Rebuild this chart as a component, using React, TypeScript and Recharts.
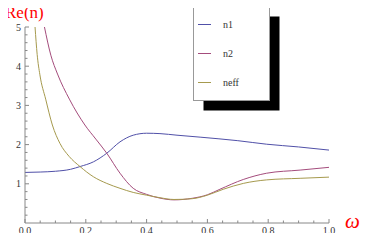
import React from 'react'
import { LineChart, Line, XAxis, YAxis, Legend } from 'recharts'

// omega values and Re(n) readings for each series
const n1W = [0, 0.05, 0.1, 0.15, 0.181, 0.225, 0.269, 0.3125, 0.356, 0.4, 0.444, 0.5, 0.576, 0.7, 0.795, 0.9, 1.0]
const n1V = [1.29, 1.3, 1.32, 1.37, 1.44, 1.56, 1.78, 2.07, 2.24, 2.29, 2.28, 2.24, 2.19, 2.1, 2.01, 1.94, 1.86]

const n2W = [0.064, 0.085, 0.107, 0.146, 0.197, 0.233, 0.269, 0.3125, 0.356, 0.4, 0.444, 0.49, 0.55, 0.6, 0.641, 0.718, 0.795, 0.905, 1.0]
const n2V = [5.0, 4.28, 3.8, 3.16, 2.5, 2.14, 1.78, 1.27, 0.885, 0.73, 0.635, 0.59, 0.63, 0.72, 0.86, 1.11, 1.27, 1.35, 1.42]

const neffW = [0.033, 0.04, 0.049, 0.068, 0.09, 0.115, 0.145, 0.181, 0.225, 0.269, 0.3125, 0.356, 0.4, 0.444, 0.49, 0.55, 0.6, 0.652, 0.718, 0.795, 0.905, 1.0]
const neffV = [5.0, 4.3, 3.78, 3.16, 2.5, 2.03, 1.7, 1.44, 1.18, 1.01, 0.885, 0.78, 0.71, 0.645, 0.6, 0.62, 0.71, 0.86, 1.01, 1.1, 1.14, 1.17]

const xMajor = [0, 0.2, 0.4, 0.6, 0.8, 1.0]
const xTicks = [0, 0.05, 0.1, 0.15, 0.2, 0.25, 0.3, 0.35, 0.4, 0.45, 0.5, 0.55, 0.6, 0.65, 0.7, 0.75, 0.8, 0.85, 0.9, 0.95, 1.0]
const yMajor = [1, 2, 3, 4, 5]
const yTicks = [0.2, 0.4, 0.6, 0.8, 1, 1.2, 1.4, 1.6, 1.8, 2, 2.2, 2.4, 2.6, 2.8, 3, 3.2, 3.4, 3.6, 3.8, 4, 4.2, 4.4, 4.6, 4.8, 5]

const series = [
  { name: 'n1', w: n1W, v: n1V, color: '#5050a8' },
  { name: 'n2', w: n2W, v: n2V, color: '#a44c7c' },
  { name: 'neff', w: neffW, v: neffV, color: '#a69a4e' },
]

const AXIS = '#888'
const SERIF = "'Liberation Serif', 'Times New Roman', 'DejaVu Serif', serif"

const isMajor = (list: number[], v: number) => list.some(m => Math.abs(m - v) < 1e-6)

// ticks point into the plot, like Mathematica
const XTick = ({ x, y, payload }: any) => {
  const major = isMajor(xMajor, payload.value)
  return (
    <g>
      <line x1={x} x2={x} y1={y} y2={y - (major ? 4 : 2.5)} stroke={AXIS} />
      {major && (
        <text x={x} y={y + 11} textAnchor="middle" fontSize={10} style={{ fontFamily: SERIF }} fill="#333">
          {payload.value.toFixed(1)}
        </text>
      )}
    </g>
  )
}

const YTick = ({ x, y, payload }: any) => {
  const major = isMajor(yMajor, payload.value)
  return (
    <g>
      <line x1={x} x2={x + (major ? 4 : 2.5)} y1={y} y2={y} stroke={AXIS} />
      {major && (
        <text x={x - 4} y={y + 3.5} textAnchor="end" fontSize={10} style={{ fontFamily: SERIF }} fill="#333">
          {payload.value}
        </text>
      )}
    </g>
  )
}

const LegendBox = () => (
  <svg width={96} height={112} style={{ display: 'block' }}>
    <rect x={10.5} y={10.5} width={76} height={94} fill="#000" />
    <rect x={0.5} y={0.5} width={76} height={94} fill="#fff" stroke="#999" />
    {series.map((s, i) => (
      <g key={s.name}>
        <line x1={5} x2={18} y1={18.5 + i * 29} y2={18.5 + i * 29} stroke={s.color} />
        <text x={30} y={22 + i * 29} fontSize={10} style={{ fontFamily: SERIF }} fill="#333">
          {s.name}
        </text>
      </g>
    ))}
  </svg>
)

export default function App() {
  return (
    <div style={{ position: 'relative', width: 382, height: 241, margin: -8, background: '#fff', fontFamily: SERIF }}>
      <LineChart width={382} height={241} margin={{ top: 27, right: 53, bottom: 0, left: 0 }}>
        <XAxis
          type="number"
          dataKey="w"
          domain={[0, 1]}
          ticks={xTicks}
          interval={0}
          height={18}
          tickSize={0}
          tickMargin={0}
          tickLine={false}
          tick={<XTick />}
          axisLine={{ stroke: AXIS }}
          allowDuplicatedCategory={false}
        />
        <YAxis
          type="number"
          domain={[0, 5]}
          ticks={yTicks}
          interval={0}
          width={25}
          tickSize={0}
          tickMargin={0}
          tickLine={false}
          tick={<YTick />}
          axisLine={{ stroke: AXIS }}
          allowDataOverflow
        />
        <Legend
          layout="vertical"
          align="center"
          verticalAlign="middle"
          wrapperStyle={{ left: 193, top: 6, width: 96, height: 112 }}
          content={<LegendBox />}
        />
        {series.map(s => (
          <Line
            key={s.name}
            name={s.name}
            data={s.w.map((w, i) => ({ w, v: s.v[i] }))}
            dataKey="v"
            type="monotone"
            stroke={s.color}
            strokeWidth={1}
            dot={false}
            isAnimationActive={false}
          />
        ))}
      </LineChart>
      <svg width={382} height={241} style={{ position: 'absolute', left: 0, top: 0, pointerEvents: 'none' }}>
        <text x={5} y={18} fontSize={17} style={{ fontFamily: SERIF }} fill="#f00">Re(n)</text>
        <text x={345} y={228} fontSize={21} fontStyle="italic" style={{ fontFamily: SERIF }} fill="#f00">ω</text>
      </svg>
    </div>
  )
}
